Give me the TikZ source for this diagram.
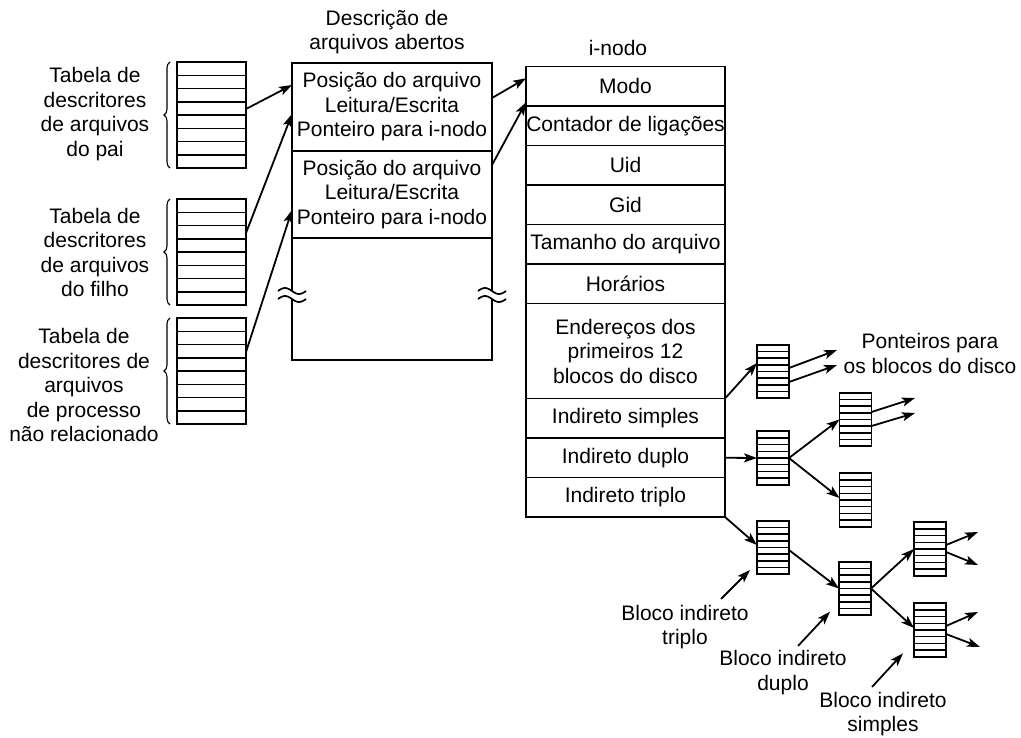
\documentclass[tikz,border=0pt]{standalone}
\usepackage{fontspec}
\setmainfont{Liberation Sans}
\usetikzlibrary{arrows.meta,calc,decorations.pathreplacing}
\tikzset{
  txt/.style={font=\fontsize{21}{24.5}\selectfont, inner sep=0pt, outer sep=0pt, align=center, text=black},
  rowlines/.style={path picture={
    \foreach \k in {1,...,7}{
      \draw[line width=1.5pt] ($(path picture bounding box.north west)!\k/8!(path picture bounding box.south west)$) --
                              ($(path picture bounding box.north east)!\k/8!(path picture bounding box.south east)$);}}},
  bigtab/.style={draw, line width=1.8pt, inner sep=0pt, outer sep=0pt, minimum width=69pt, minimum height=106pt, rowlines},
  smalltab/.style={draw, line width=1.7pt, inner sep=0pt, outer sep=0pt, minimum width=32pt, minimum height=53.5pt, rowlines},
  ofbox/.style={txt, draw, line width=1.8pt, minimum width=200pt},
  irow/.style={txt, draw, line width=1.8pt, minimum width=199pt, minimum height=39.5pt},
  arr/.style={-{Stealth[length=13pt,width=9pt,inset=3pt]}, line width=1.8pt},
  bracestyle/.style={line width=1.1pt, decorate, decoration={brace, amplitude=6pt}},
  wave/.style={line width=1.7pt},
}
\begin{document}
\begin{tikzpicture}[x=1pt,y=-1pt]
\useasboundingbox (0,0) rectangle (1021,737);

% left descriptor tables
\node[bigtab] (t1) at (211.5,115) {};
\node[bigtab] (t2) at (211.5,252) {};
\node[bigtab] (t3) at (211.5,371) {};
\draw[bracestyle] ([xshift=-7pt]t1.south west) -- ([xshift=-7pt]t1.north west);
\draw[bracestyle] ([xshift=-7pt]t2.south west) -- ([xshift=-7pt]t2.north west);
\draw[bracestyle] ([xshift=-7pt]t3.south west) -- ([xshift=-7pt]t3.north west);
\node[txt] (l1) at (95,114) {Tabela de\\descritores\\de arquivos\\do pai};
\node[txt] (l2) at (95,252.5) {Tabela de\\descritores\\de arquivos\\do filho};
\node[txt] (l3) at (84,385) {Tabela de\\descritores de\\arquivos\\de processo\\não relacionado};

% open file description table
\node[txt] (oftitle) at (387,32) {Descrição de\\arquivos abertos};
\node[ofbox, minimum height=88pt] (of1) at (392,107) {Posição do arquivo\\Leitura/Escrita\\Ponteiro para i-nodo};
\node[ofbox, minimum height=87pt] (of2) at (392,194.5) {Posição do arquivo\\Leitura/Escrita\\Ponteiro para i-nodo};
\node[ofbox, minimum height=122pt] (ofr) at (392,299) {};
\foreach \xx in {292,492} {
  \fill[white] plot[domain=-14:14,samples=25] ({\xx+\x},{291+3*sin(\x/28*360)})
     -- plot[domain=14:-14,samples=25] ({\xx+\x},{299+3*sin(\x/28*360)}) -- cycle;
  \draw[wave] plot[domain=-14:14,samples=25] ({\xx+\x},{291+3*sin(\x/28*360)});
  \draw[wave] plot[domain=-14:14,samples=25] ({\xx+\x},{299+3*sin(\x/28*360)});
}

% i-node
\node[txt] (ititle) at (618,48) {i-nodo};
\node[irow] (modo) at (625.5,86.25) {Modo};
\node[irow] (cont) at (625.5,125.75) {Contador de ligações};
\node[irow] (uid) at (625.5,165.25) {Uid};
\node[irow] (gid) at (625.5,204.75) {Gid};
\node[irow] (tam) at (625.5,244.25) {Tamanho do arquivo};
\node[irow] (hor) at (625.5,283.75) {Horários};
\node[irow, minimum height=95pt] (end) at (625.5,351) {Endereços dos\\primeiros 12\\blocos do disco};
\node[irow] (isimp) at (625.5,418.25) {Indireto simples};
\node[irow] (idup) at (625.5,457.75) {Indireto duplo};
\node[irow] (itri) at (625.5,497.25) {Indireto triplo};

% arrows to open file description and i-node
\draw[arr] ([yshift=6pt]t1.east) -- ([yshift=22pt]of1.west);
\draw[arr] ([yshift=19pt]t2.east) -- ([yshift=-7pt]of1.west);
\draw[arr] ([yshift=19pt]t3.east) -- ([yshift=-15.5pt]of2.west);
\draw[arr] ([yshift=9pt]of1.east) -- ([yshift=8pt]modo.west);
\draw[arr] ([yshift=29.5pt]of2.east) -- ([yshift=-16pt]modo.west);

% single indirect
\node[smalltab] (s1) at (773,371.5) {};
\coordinate (p1) at (837,350);
\coordinate (p2) at (837,365);
\draw[arr] (isimp.north east) -- ([yshift=8.5pt]s1.west);
\draw[arr] ([yshift=3.5pt]s1.east) -- (p1);
\draw[arr] ([yshift=-10.5pt]s1.east) -- (p2);
\node[txt] (ptr) at (930,353.5) {Ponteiros para\\os blocos do disco};

% double indirect
\node[smalltab] (d1) at (773,458) {};
\node[smalltab] (d1a) at (855.5,419.5) {};
\node[smalltab] (d1b) at (855.5,500) {};
\coordinate (p3) at (915,398);
\coordinate (p4) at (915,413);
\draw[arr] (idup.east) -- (d1.west);
\draw[arr] (d1.east) -- (d1a.west);
\draw[arr] (d1.east) -- ([yshift=2pt]d1b.west);
\draw[arr] ([yshift=7.5pt]d1a.east) -- (p3);
\draw[arr] ([yshift=-6.5pt]d1a.east) -- (p4);

% triple indirect
\node[smalltab] (tr1) at (773,547.5) {};
\node[smalltab] (tr2) at (855,588.5) {};
\node[smalltab] (tr3a) at (930,549) {};
\node[smalltab] (tr3b) at (930,630) {};
\coordinate (p5) at (978,532);
\coordinate (p6) at (978,565);
\coordinate (p7) at (978,612);
\coordinate (p8) at (980,647);
\draw[arr] (itri.south east) -- ([yshift=2.5pt]tr1.west);
\draw[arr] ([yshift=-2.5pt]tr1.east) -- (tr2.west);
\draw[arr] (tr2.east) -- (tr3a.west);
\draw[arr] (tr2.east) -- ([yshift=2pt]tr3b.west);
\draw[arr] ([yshift=4pt]tr3a.east) -- (p5);
\draw[arr] ([yshift=-3pt]tr3a.east) -- (p6);
\draw[arr] ([yshift=4pt]tr3b.east) -- (p7);
\draw[arr] ([yshift=-4pt]tr3b.east) -- (p8);

% block labels
\node[txt] (lt) at (685,627) {Bloco indireto\\triplo};
\node[txt] (ld) at (783,672.5) {Bloco indireto\\duplo};
\node[txt] (ls) at (883,714) {Bloco indireto\\simples};
\coordinate (q1) at (750,570);
\coordinate (q2) at (830,611.7);
\coordinate (q3) at (903,653.3);
\draw[arr] ([shift={(36pt,6pt)}]lt.north) -- (q1);
\draw[arr] ([shift={(15pt,4.5pt)}]ld.north) -- (q2);
\draw[arr] ([shift={(-11pt,5pt)}]ls.north) -- (q3);
\end{tikzpicture}
\end{document}
